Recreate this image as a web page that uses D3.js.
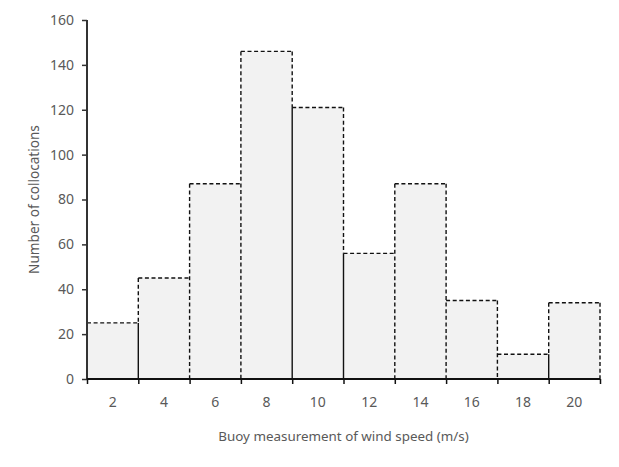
<!DOCTYPE html>
<html>
<head>
<meta charset="utf-8">
<script src="https://cdn.jsdelivr.net/npm/d3@7"></script>
<style>
  body { margin: 0; background: #fff; }
  text { font-family: "Noto Sans", "Open Sans", sans-serif; }
</style>
</head>
<body>
<svg id="chart" width="619" height="467"></svg>
<script>
// ---- data ----
const binCenters = [2, 4, 6, 8, 10, 12, 14, 16, 18, 20];
const counts = [25, 45, 87, 146, 121, 56, 87, 35, 11, 34];
const yTicks = [0, 20, 40, 60, 80, 100, 120, 140, 160];
const xLabel = "Buoy measurement of wind speed (m/s)";
const yLabel = "Number of collocations";
// boundaries (between bin i-1 and i) where the overlapping dashed edges render as solid
const solidJoins = [1, 4, 5, 9];

const binWidth = 2;
const svg = d3.select("#chart");
const margin = { left: 87, right: 19, top: 20, bottom: 88 };
const W = 619, H = 467;

const x = d3.scaleLinear().domain([1, 21]).range([margin.left, W - margin.right]);
const y = d3.scaleLinear().domain([0, 160]).range([H - margin.bottom, margin.top]);

const bars = binCenters.map((c, i) => ({ x0: c - binWidth / 2, x1: c + binWidth / 2, v: counts[i] }));

// fills
svg.append("g").selectAll("rect").data(bars).join("rect")
  .attr("x", d => x(d.x0)).attr("width", d => x(d.x1) - x(d.x0))
  .attr("y", d => y(d.v)).attr("height", d => y(0) - y(d.v))
  .attr("fill", "#f2f2f2");

const dash = "4,2.6";
const outline = svg.append("g").attr("fill", "none").attr("stroke", "#111").attr("stroke-width", 1.4);

// tops
outline.selectAll("line.top").data(bars).join("line").attr("class", "top")
  .attr("x1", d => x(d.x0)).attr("x2", d => x(d.x1))
  .attr("y1", d => y(d.v)).attr("y2", d => y(d.v))
  .attr("stroke-dasharray", dash);

// vertical edges
const edges = [];
bars.forEach((b, i) => {
  const prev = i > 0 ? bars[i - 1].v : 0;
  const hi = Math.max(prev, b.v), lo = Math.min(prev, b.v);
  if (i === 0) { edges.push({ xv: b.x0, y0: 0, y1: b.v, solid: false }); return; }
  if (solidJoins.includes(i)) {
    edges.push({ xv: b.x0, y0: 0, y1: lo, solid: true });
    edges.push({ xv: b.x0, y0: lo, y1: hi, solid: false });
  } else {
    edges.push({ xv: b.x0, y0: 0, y1: hi, solid: false });
  }
});
const last = bars[bars.length - 1];
edges.push({ xv: last.x1, y0: 0, y1: last.v, solid: false });

outline.selectAll("line.edge").data(edges).join("line").attr("class", "edge")
  .attr("x1", d => x(d.xv)).attr("x2", d => x(d.xv))
  .attr("y1", d => y(d.y1)).attr("y2", d => y(d.y0))
  .attr("stroke-dasharray", d => d.solid ? null : dash);

// y axis
const yAxis = svg.append("g").attr("transform", `translate(${margin.left},0)`)
  .call(d3.axisLeft(y).tickValues(yTicks).tickSize(5).tickPadding(8));
yAxis.select(".domain").attr("stroke", "#333").attr("stroke-width", 2).attr("d", `M0,${y(160)}V${y(0)}`);
yAxis.selectAll(".tick line").attr("stroke", "#333").attr("stroke-width", 1.5);
yAxis.selectAll(".tick text").attr("fill", "#595959").attr("font-size", 14)
  .style("font-family", '"Noto Sans", "Open Sans", sans-serif');

// x axis: boundary ticks, labels at bin centers
const boundaries = bars.map(b => b.x0).concat([last.x1]);
const xAxis = svg.append("g").attr("transform", `translate(0,${y(0)})`)
  .call(d3.axisBottom(x).tickValues(boundaries).tickSize(5).tickFormat(""));
xAxis.select(".domain").attr("stroke", "#111").attr("stroke-width", 2).attr("d", `M${x(1)},0H${x(21)}`);
xAxis.selectAll(".tick line").attr("stroke", "#111").attr("stroke-width", 1.5);

svg.append("g").selectAll("text").data(binCenters).join("text")
  .attr("x", d => x(d)).attr("y", y(0) + 28)
  .attr("text-anchor", "middle").attr("fill", "#595959").attr("font-size", 14)
  .text(d => d);

// axis titles
svg.append("text").attr("x", (x(1) + x(21)) / 2).attr("y", 441)
  .attr("text-anchor", "middle").attr("fill", "#595959").attr("font-size", 13.4)
  .text(xLabel);
svg.append("text").attr("transform", `translate(39,${(y(0) + y(160)) / 2}) rotate(-90)`)
  .attr("text-anchor", "middle").attr("fill", "#595959").attr("font-size", 13.6)
  .text(yLabel);
</script>
</body>
</html>
